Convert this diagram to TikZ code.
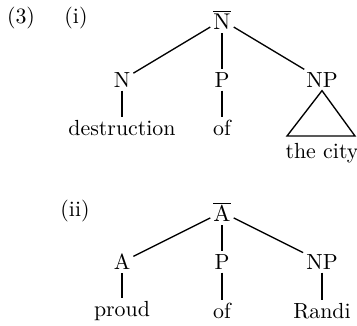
\documentclass[tikz,border=0pt]{standalone}
\begin{document}
\begin{tikzpicture}[x=48pt, y=-48pt, line width=0.65pt, font=\fontsize{10.5}{12}\selectfont, every node/.style={inner sep=1.2pt}]
			\useasboundingbox (0,0) rectangle (3.57,3.25);
			%Numéros
			\node (Ex) at (0.21,0.18) {(3)};
			\node (Li) at (0.76,0.18) {(i)};
			\node (Lii) at (0.75,2.11) {(ii)};
			%Premier arbre
			\node (Nbar) at (2.22,0.20) {$\overline{\mathrm{N}}$};
			\node (N) at (1.22,0.80) {N};
			\node (Pi) at (2.22,0.80) {P};
			\node (NPi) at (3.22,0.80) {NP};
			\node (destr) at (1.22,1.28) {destruction};
			\node (ofi) at (2.22,1.28) {of};
			\coordinate (TL) at (2.87,1.36);
			\coordinate (TR) at (3.55,1.36);
			\node (city) at (3.22,1.53) {the city};
			%Arêtes
			\draw (Nbar) -- (N);
			\draw (Nbar) -- (Pi);
			\draw (Nbar) -- (NPi);
			\draw (N) -- (destr);
			\draw (Pi) -- (ofi);
			\draw (NPi.south) -- (TL) -- (TR) -- cycle;
			%Second arbre
			\node (Abar) at (2.22,2.12) {$\overline{\mathrm{A}}$};
			\node (A) at (1.22,2.62) {A};
			\node (Pii) at (2.22,2.62) {P};
			\node (NPii) at (3.22,2.62) {NP};
			\node (proud) at (1.22,3.11) {proud};
			\node (ofii) at (2.22,3.11) {of};
			\node (Randi) at (3.22,3.11) {Randi};
			%Arêtes
			\draw (Abar) -- (A);
			\draw (Abar) -- (Pii);
			\draw (Abar) -- (NPii);
			\draw (A) -- (proud);
			\draw (Pii) -- (ofii);
			\draw (NPii) -- (Randi);
		\end{tikzpicture}
\end{document}
